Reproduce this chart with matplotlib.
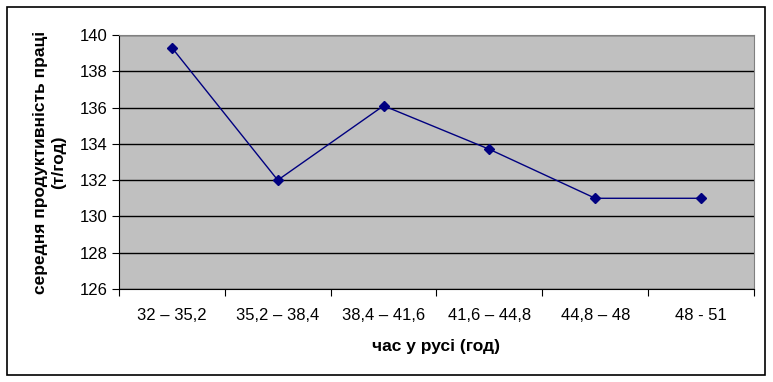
import matplotlib.pyplot as plt
from matplotlib.patches import Rectangle

plt.rcParams['font.family'] = ['Liberation Sans', 'DejaVu Sans']

categories = ['32 – 35,2', '35,2 – 38,4', '38,4 – 41,6', '41,6 – 44,8', '44,8 – 48', '48 - 51']
productivity = [139.3, 132.0, 136.1, 133.7, 131.0, 131.0]

W, H = 773, 382
fig = plt.figure(figsize=(W / 100, H / 100), dpi=100)
ax = fig.add_axes([119 / W, 1 - 289 / H, (754 - 119) / W, (289 - 35) / H])

# outer chart border
fig.patches.append(Rectangle((7 / W, 1 - 375 / H), (765 - 7) / W, (375 - 7) / H,
                             transform=fig.transFigure, fill=False,
                             edgecolor='black', linewidth=1.2))

x = list(range(len(categories)))
ax.set_facecolor('#C0C0C0')
ax.plot(x, productivity, color='#000080', linewidth=1, marker='D', markersize=5,
        zorder=3)

ax.set_xlim(-0.5, len(categories) - 0.5)
ax.set_ylim(126, 140)
ax.set_yticks(range(126, 141, 2))
ax.yaxis.grid(True, color='black', linewidth=1)
ax.set_axisbelow(True)

ax.set_xticks([i + 0.5 for i in range(-1, len(categories))], minor=False)
ax.set_xticklabels([])
ax.set_xticks(x, minor=True)
ax.set_xticklabels(categories, minor=True)
ax.tick_params(axis='x', which='minor', length=0, pad=14, labelsize=12)
ax.tick_params(axis='x', which='major', length=5, direction='out')
ax.tick_params(axis='y', length=5, labelsize=12, pad=3)

for side in ['top', 'right']:
    ax.spines[side].set_color('#808080')
ax.spines['left'].set_color('black')
ax.spines['bottom'].set_color('black')

ax.set_xlabel('час у русі (год)', fontsize=12.5, fontweight='bold', labelpad=11)
ax.set_ylabel('середня продуктивність праці\n(т/год)', fontsize=12.5,
              fontweight='bold', labelpad=10, linespacing=1.3)

plt.savefig('out.png', dpi=100)
